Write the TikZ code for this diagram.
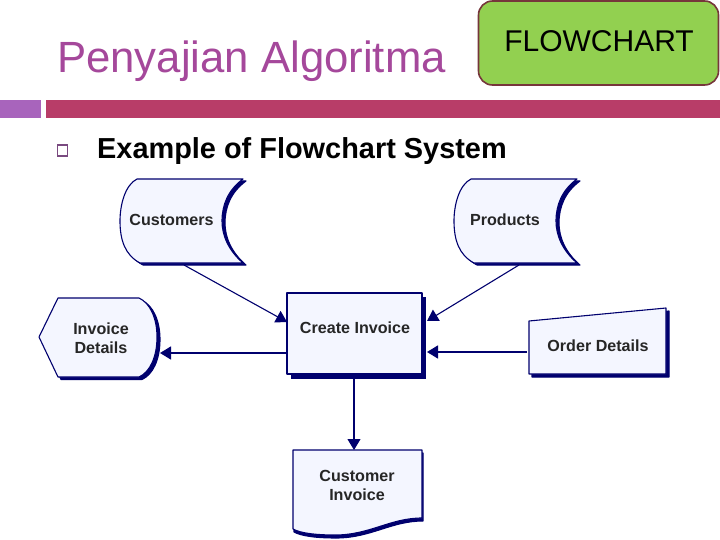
\documentclass[tikz,border=0pt]{standalone}
\usepackage{fontspec}
\setmainfont{Liberation Sans}
\usetikzlibrary{arrows.meta}
\definecolor{navy}{HTML}{00006E}
\definecolor{paper}{HTML}{F4F6FF}
\definecolor{titlecol}{HTML}{A5489B}
\definecolor{barpurple}{HTML}{A864BC}
\definecolor{barmaroon}{HTML}{B83D68}
\definecolor{tabgreen}{HTML}{92D050}
\definecolor{tabedge}{HTML}{76363B}
\definecolor{bulletcol}{HTML}{7A4A80}
\newcommand{\fs}[1]{\fontsize{#1}{#1}\selectfont}
\newcommand{\storedshape}{(243,179) -- (137,179) .. controls (125,185) and (120,205) .. (120,221) .. controls (120,240) and (125,255) .. (140,263) -- (243,263) .. controls (228,250) and (222,235) .. (222,221) .. controls (222,205) and (228,190) .. (243,179) -- cycle}
\newcommand{\hexshape}{(39,337) -- (58,298) -- (139,298) .. controls (150,303) and (157,318) .. (157,337) .. controls (157,357) and (150,372) .. (139,377) -- (58,377) -- cycle}
\newcommand{\ordershape}{(529,321) -- (666,308) -- (666,374) -- (529,374) -- cycle}
\newcommand{\docshape}{(293,450) -- (422,450) -- (422,518) .. controls (390,518) and (370,535) .. (335,535) .. controls (315,535) and (300,533) .. (293,529) -- cycle}
\tikzset{
  x=1pt,y=-1pt,
  shapeline/.style={draw=navy,fill=paper,line width=1.1pt,line join=round},
  shadowfill/.style={draw=navy,fill=navy,line width=1.1pt,line join=round},
  flowlabel/.style={font=\fs{16.1}\bfseries,text=black!85,align=center,inner sep=0pt,text depth=0pt},
  conn/.style={draw=navy,line width=1.1pt,-{Triangle[length=11pt,width=13pt]}},
  connbold/.style={draw=navy,line width=1.5pt,-{Triangle[length=11pt,width=13pt]}},
  titletext/.style={font=\fs{43.7},text=titlecol,anchor=base west,inner sep=0pt},
  tab/.style={draw=tabedge,fill=tabgreen,line width=1.6pt,rounded corners=14pt,minimum width=240pt,minimum height=84pt,inner sep=0pt},
  tabtext/.style={font=\fs{30},text=black,anchor=base,inner sep=0pt},
  subtitle/.style={font=\fs{28.9}\bfseries,text=black,anchor=base west,inner sep=0pt},
}
\begin{document}
\begin{tikzpicture}
\useasboundingbox (0,0) rectangle (720,540);
\fill[white] (0,0) rectangle (720,540);
% header
\node[titletext] (title) at (57,73) {Penyajian Algoritma};
\node[tab] (tabbox) at (598.5,43) {};
\node[tabtext] (tablabel) at (599,52) {FLOWCHART};
\fill[barpurple] (0,100) rectangle (41,118.5);
\fill[barmaroon] (46,100) rectangle (720,118.5);
\draw[bulletcol,line width=1.2pt] (57.5,145) rectangle (67.5,156);
\node[subtitle] (sub) at (97,158.5) {Example of Flowchart System};
% stored data shapes
\path[shadowfill,shift={(3,2)}] \storedshape;
\path[shapeline] \storedshape;
\path[shadowfill,shift={(337,2)}] \storedshape;
\path[shapeline,shift={(334,0)}] \storedshape;
% display shape
\path[shadowfill,shift={(3,2.5)}] \hexshape;
\path[shapeline] \hexshape;
% create invoice
\fill[navy] (291,297) rectangle (426,379);
\node[shapeline,minimum width=135pt,minimum height=81pt,inner sep=0pt,rectangle] (create) at (354.5,333.5) {};
% order details
\path[shadowfill,shift={(3,3)}] \ordershape;
\path[shapeline] \ordershape;
% document
\path[shadowfill,shift={(1,3)}] \docshape;
\path[shapeline] \docshape;
% labels
\node[flowlabel] (customers) at (171.5,220) {Customers};
\node[flowlabel] (products) at (505,220) {Products};
\node[flowlabel] (invoicedetails) at (101,338.5) {Invoice\\[3pt]Details};
\node[flowlabel] (createlabel) at (355,327.5) {Create Invoice};
\node[flowlabel] (orderdetails) at (598,346) {Order Details};
\node[flowlabel] (customerinvoice) at (357,485.5) {Customer\\[3pt]Invoice};
% connector ends
\coordinate (custout) at (184,265);
\coordinate (prodout) at (519,265);
\coordinate (createleft) at (287,322);
\coordinate (createright) at (427,321);
\coordinate (orderin) at (527,352);
\coordinate (createorder) at (427,352);
\coordinate (createwest) at (287,353);
\coordinate (hexin) at (160,353);
\coordinate (createsouth) at (354,378);
\coordinate (docin) at (354,450);
% connectors
\draw[conn] (custout) -- (createleft);
\draw[conn] (prodout) -- (createright);
\draw[connbold] (orderin) -- (createorder);
\draw[connbold] (createwest) -- (hexin);
\draw[conn] (createsouth) -- (docin);
\end{tikzpicture}
\end{document}
